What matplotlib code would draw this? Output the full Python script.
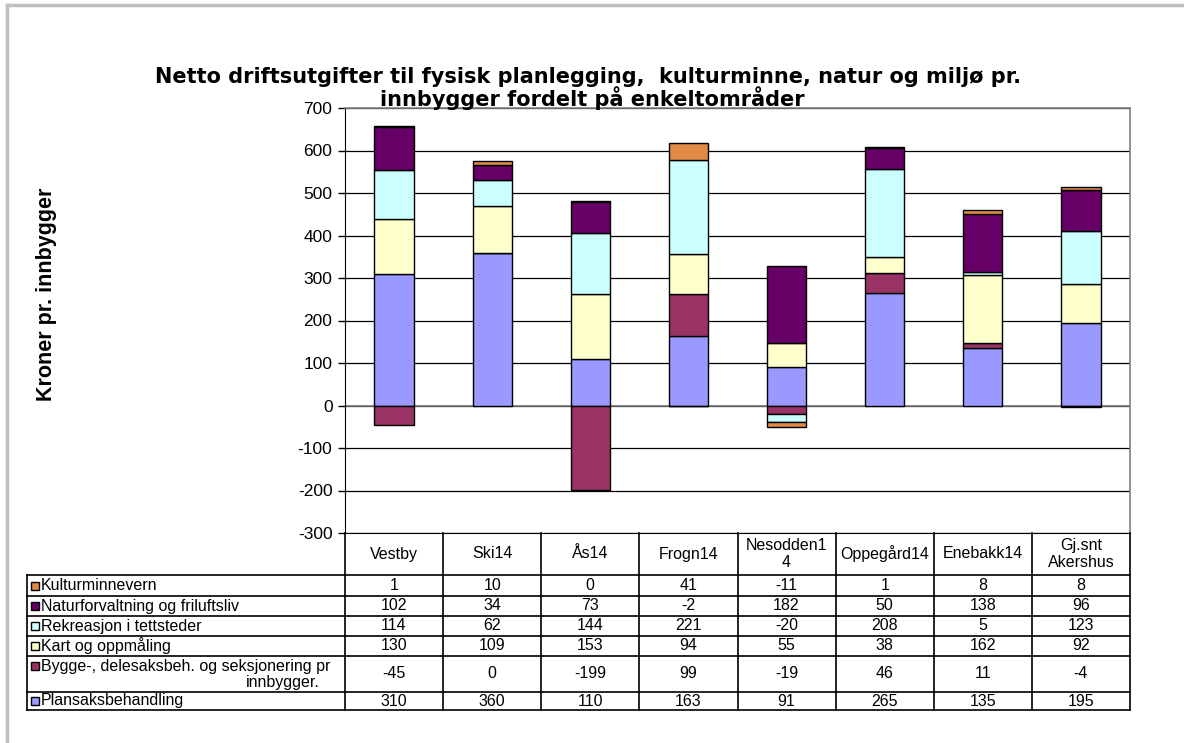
import matplotlib
matplotlib.use("Agg")
import matplotlib.pyplot as plt
from matplotlib.lines import Line2D
from matplotlib.patches import Rectangle
import numpy as np

plt.rcParams['font.family'] = ['Liberation Sans', 'DejaVu Sans']

categories = ["Vestby", "Ski14", "Ås14", "Frogn14", "Nesodden1\n4", "Oppegård14", "Enebakk14", "Gj.snt\nAkershus"]

# series in stacking order (bottom to top)
series_names = ["Plansaksbehandling",
                "Bygge-, delesaksbeh. og seksjonering pr\ninnbygger.",
                "Kart og oppmåling",
                "Rekreasjon i tettsteder",
                "Naturforvaltning og friluftsliv",
                "Kulturminnevern"]
plansak = [310, 360, 110, 163, 91, 265, 135, 195]
bygge = [-45, 0, -199, 99, -19, 46, 11, -4]
kart = [130, 109, 153, 94, 55, 38, 162, 92]
rekreasjon = [114, 62, 144, 221, -20, 208, 5, 123]
natur = [102, 34, 73, -2, 182, 50, 138, 96]
kultur = [1, 10, 0, 41, -11, 1, 8, 8]
series_values = [plansak, bygge, kart, rekreasjon, natur, kultur]
colors = ["#9999FF", "#993366", "#FFFFCC", "#CCFFFF", "#660066", "#E08A46"]

yticks = list(range(-300, 701, 100))

W, H = 1184, 743
fig = plt.figure(figsize=(W / 100, H / 100), dpi=100)

def fx(px):
    return px / W

def fy(py):
    return 1 - py / H

# outer frame (top and left grey lines)
fig.add_artist(Line2D([fx(7), fx(7)], [fy(5), 0], color="#BFBFBF", lw=2.5))
fig.add_artist(Line2D([fx(7), 1], [fy(5), fy(5)], color="#BFBFBF", lw=2.5))

L, R, T, B = 345, 1130, 108, 533
ax = fig.add_axes([fx(L), fy(B), fx(R) - fx(L), fy(T) - fy(B)])
n = len(categories)
x = np.arange(n)
pos_base = np.zeros(n)
neg_base = np.zeros(n)
for vals, col in zip(series_values, colors):
    v = np.array(vals, dtype=float)
    bottoms = np.where(v >= 0, pos_base, neg_base)
    ax.bar(x, v, width=0.4, bottom=bottoms, color=col, edgecolor="black", linewidth=1.0, zorder=3)
    pos_base = pos_base + np.where(v > 0, v, 0)
    neg_base = neg_base + np.where(v < 0, v, 0)

ax.set_xlim(-0.5, n - 0.5)
ax.set_ylim(-300, 700)
ax.set_yticks(yticks)
ax.set_yticklabels([str(t) for t in yticks], fontsize=12.5)
ax.set_xticks([])
ax.yaxis.grid(True, color="black", lw=0.9, zorder=0)
ax.axhline(0, color="#777777", lw=1.2, zorder=2)
ax.tick_params(axis='y', length=5, width=1, color="black", pad=4)
for s in ["top", "right"]:
    ax.spines[s].set_color("#808080")
    ax.spines[s].set_linewidth(1.2)
ax.spines["left"].set_color("black")
ax.spines["bottom"].set_color("black")

# title
fig.text(0.497, fy(83), "Netto driftsutgifter til fysisk planlegging,  kulturminne, natur og miljø pr.",
         ha="center", va="baseline", fontsize=15, fontweight="bold", family="DejaVu Sans")
fig.text(0.5, fy(106), "innbygger fordelt på enkeltområder",
         ha="center", va="baseline", fontsize=15, fontweight="bold", family="DejaVu Sans")
fig.text(fx(47), fy(294), "Kroner pr. innbygger", rotation=90, ha="center", va="center",
         fontsize=15.5, fontweight="bold")

# data table
colw = (R - L) / n
col_edges = [L + i * colw for i in range(n + 1)]
TL = 27
row_edges = [575, 596, 616, 636, 656, 692, 710]
lc = "black"
lw = 1.2
for xe in col_edges:
    fig.add_artist(Line2D([fx(xe), fx(xe)], [fy(B), fy(row_edges[-1])], color=lc, lw=lw))
fig.add_artist(Line2D([fx(TL), fx(TL)], [fy(row_edges[0]), fy(row_edges[-1])], color=lc, lw=lw))
for ye in row_edges:
    fig.add_artist(Line2D([fx(TL), fx(R)], [fy(ye), fy(ye)], color=lc, lw=lw))
fs = 11.5
for i, c in enumerate(categories):
    fig.text(fx((col_edges[i] + col_edges[i + 1]) / 2), fy((B + row_edges[0]) / 2), c,
             ha="center", va="center", fontsize=fs, linespacing=1.1)
for r, si in enumerate(range(len(series_names) - 1, -1, -1)):
    y0, y1 = row_edges[r], row_edges[r + 1]
    ym = (y0 + y1) / 2
    name = series_names[si]
    lines = name.split("\n")
    ky = ym if len(lines) == 1 else y0 + 10
    fig.add_artist(Rectangle((fx(TL + 4), fy(ky + 4)), fx(8), 8 / H, facecolor=colors[si],
                             edgecolor="black", lw=1.0))
    if len(lines) == 1:
        fig.text(fx(TL + 14), fy(ym), name, ha="left", va="center", fontsize=fs)
    else:
        fig.text(fx(TL + 14), fy(y0 + 10), lines[0], ha="left", va="center", fontsize=fs)
        fig.text(fx(283), fy(y0 + 27), lines[1], ha="center", va="center", fontsize=fs)
    for i, v in enumerate(series_values[si]):
        fig.text(fx((col_edges[i] + col_edges[i + 1]) / 2), fy(ym), str(v),
                 ha="center", va="center", fontsize=fs)

fig.savefig("out.png", dpi=100)
